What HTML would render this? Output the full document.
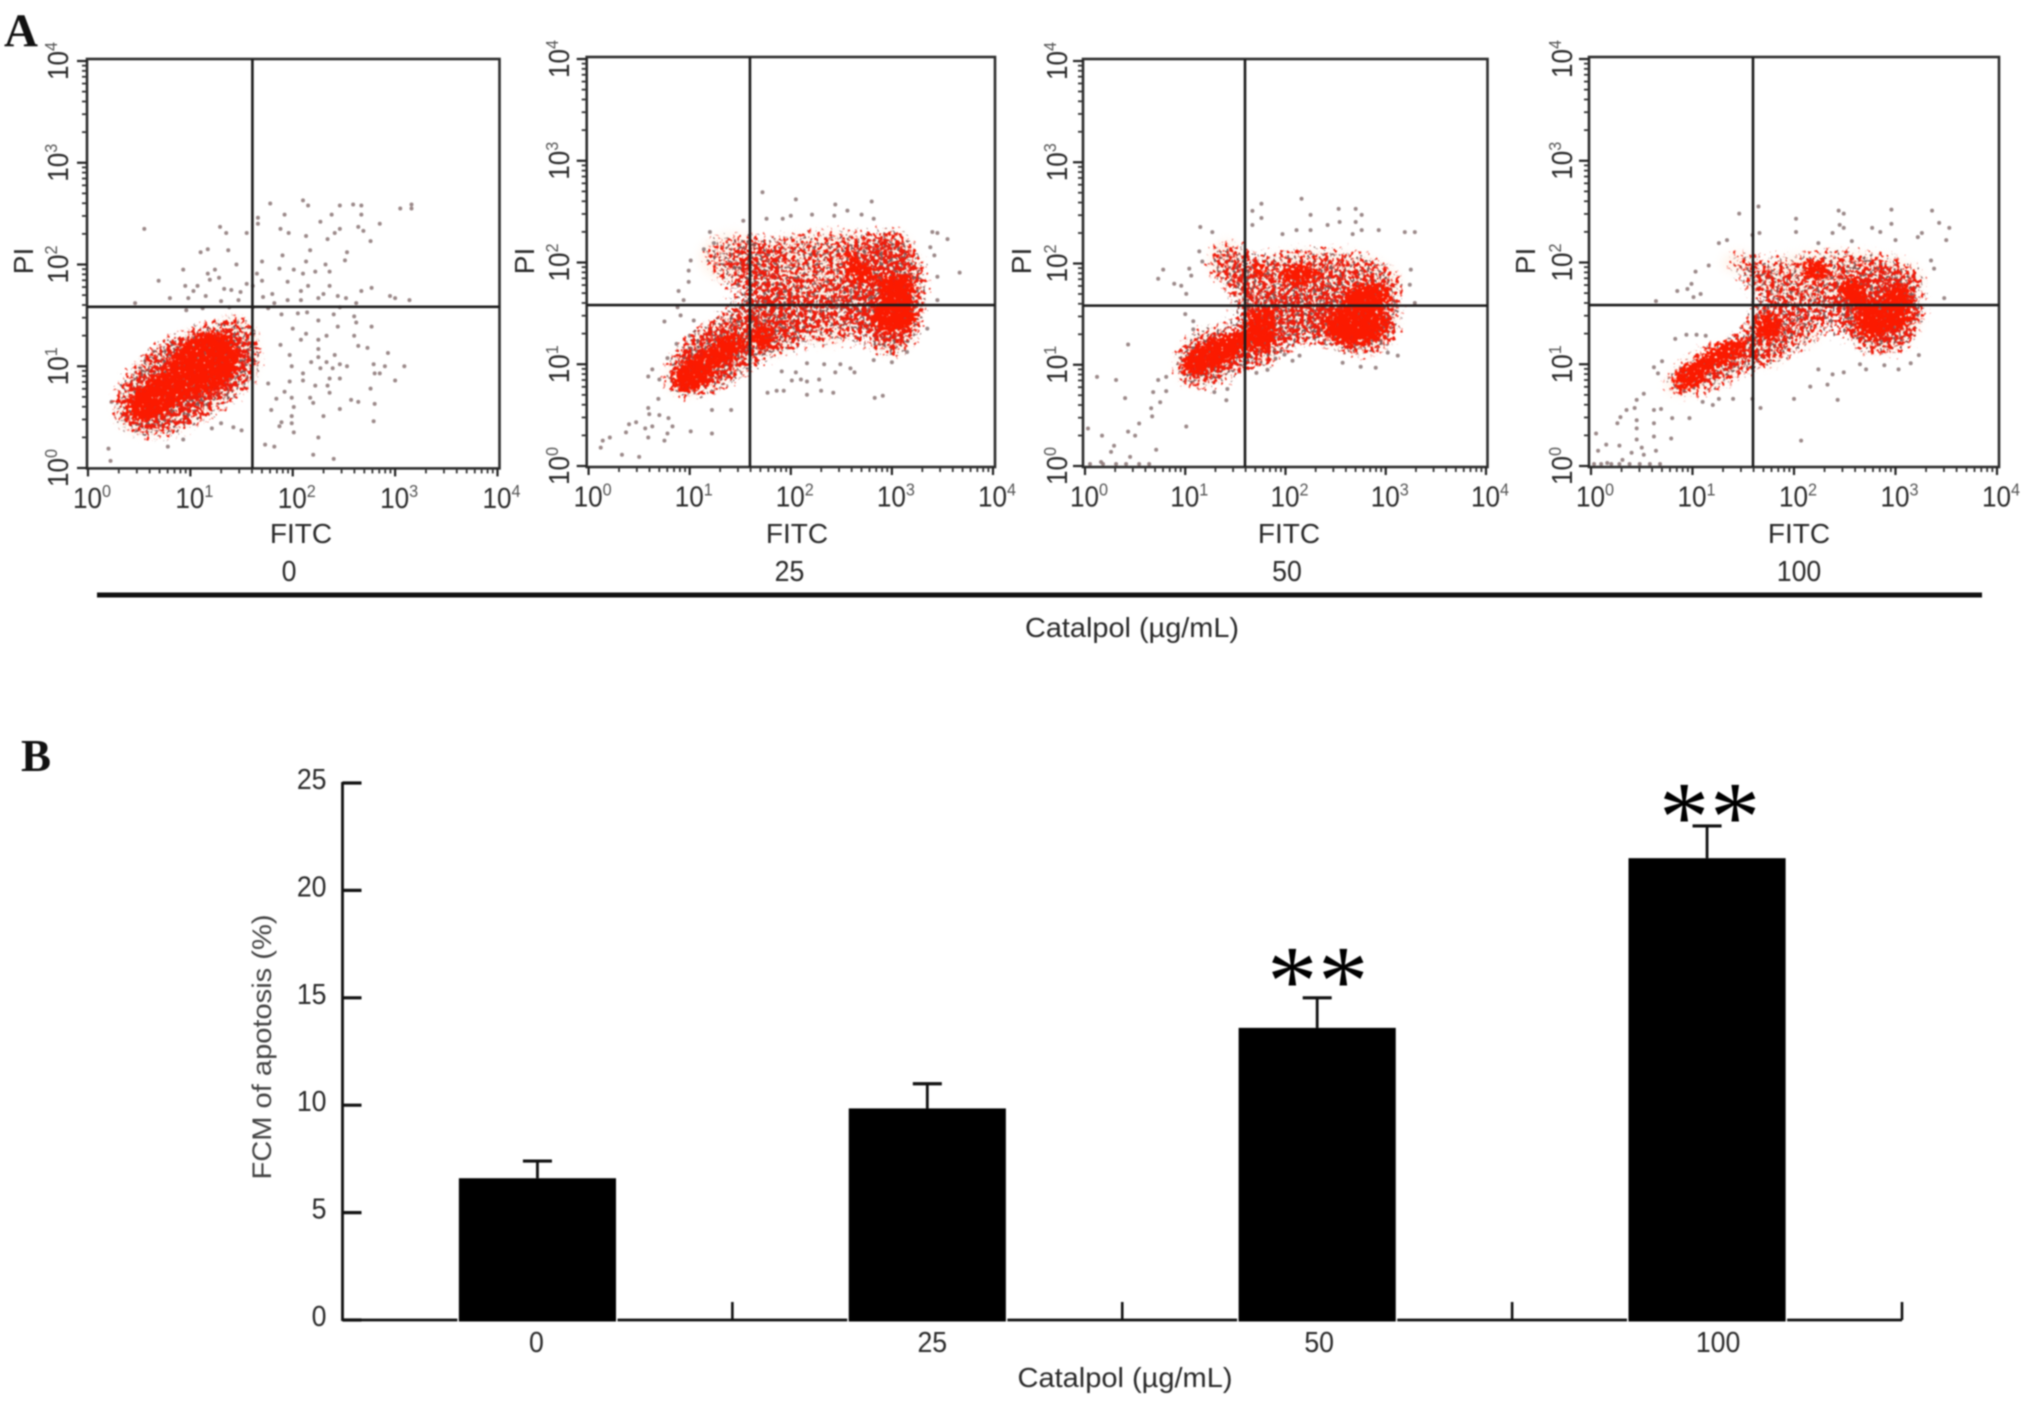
<!DOCTYPE html>
<html lang="en">
<head>
<meta charset="utf-8">
<title>Catalpol flow cytometry apoptosis figure</title>
<style>
html,body{margin:0;padding:0;background:#fff;width:2029px;height:1404px;overflow:hidden}
svg{display:block;filter:blur(0.8px)}
text{font-family:"Liberation Sans",sans-serif;fill:#2a2a2a}
</style>
</head>
<body>
<svg id="figure" xmlns="http://www.w3.org/2000/svg" width="2029" height="1404" viewBox="0 0 2029 1404">
<defs>
<filter id="speckle-red" x="-20%" y="-20%" width="140%" height="140%" color-interpolation-filters="sRGB">
<feGaussianBlur in="SourceGraphic" stdDeviation="13" result="soft"/>
<feTurbulence type="fractalNoise" baseFrequency="0.24" numOctaves="2" seed="4" result="noise"/>
<feColorMatrix in="noise" type="matrix" values="0 0 0 0 1 0 0 0 0 1 0 0 0 0 1 1 0 0 0 0" result="noiseAlpha"/>
<feComposite in="soft" in2="noiseAlpha" operator="in" result="masked"/>
<feComponentTransfer in="masked"><feFuncA type="linear" slope="9" intercept="-3.7"/></feComponentTransfer>
</filter>
<filter id="speckle-dark" x="-20%" y="-20%" width="140%" height="140%" color-interpolation-filters="sRGB">
<feGaussianBlur in="SourceGraphic" stdDeviation="14" result="soft"/>
<feTurbulence type="fractalNoise" baseFrequency="0.3" numOctaves="2" seed="17" result="noise"/>
<feColorMatrix in="noise" type="matrix" values="0 0 0 0 1 0 0 0 0 1 0 0 0 0 1 1 0 0 0 0" result="noiseAlpha"/>
<feComposite in="soft" in2="noiseAlpha" operator="in" result="masked"/>
<feComponentTransfer in="masked"><feFuncA type="linear" slope="10" intercept="-4.5"/></feComponentTransfer>
</filter>
<filter id="dense-red" x="-30%" y="-30%" width="160%" height="160%" color-interpolation-filters="sRGB">
<feGaussianBlur in="SourceGraphic" stdDeviation="7" result="soft"/>
<feTurbulence type="fractalNoise" baseFrequency="0.28" numOctaves="2" seed="9" result="noise"/>
<feColorMatrix in="noise" type="matrix" values="0 0 0 0 1 0 0 0 0 1 0 0 0 0 1 1 0 0 0 0" result="noiseAlpha"/>
<feComposite in="soft" in2="noiseAlpha" operator="in" result="masked"/>
<feComponentTransfer in="masked"><feFuncA type="linear" slope="12" intercept="-3"/></feComponentTransfer>
</filter>
<filter id="soft-cream" x="-20%" y="-20%" width="140%" height="140%">
<feGaussianBlur stdDeviation="5"/>
</filter>
</defs>

<text x="4" y="46" font-size="47" font-weight="bold" style="font-family:'Liberation Serif',serif;fill:#111">A</text>
<text x="21" y="771" font-size="45" font-weight="bold" style="font-family:'Liberation Serif',serif;fill:#111">B</text>
<rect x="97" y="592.5" width="1885" height="5" fill="#111"/>
<text x="1132" y="637" font-size="28" text-anchor="middle" textLength="214" lengthAdjust="spacingAndGlyphs">Catalpol (µg/mL)</text>
<text x="1125" y="1387" font-size="28" text-anchor="middle" textLength="215" lengthAdjust="spacingAndGlyphs">Catalpol (µg/mL)</text>
<text transform="translate(271 1047) rotate(-90)" font-size="27" text-anchor="middle" textLength="265" lengthAdjust="spacingAndGlyphs" style="fill:#444">FCM of apotosis (%)</text>
</svg>

<script>
/* ---------- Panel A data: all values are log10 fluorescence (decades) ---------- */
const doseLabels = ["0", "25", "50", "100"];
const decadeTicks = [0, 1, 2, 3, 4];
const minorTickMultipliers = [2, 3, 4, 5, 6, 7, 8, 9];
const gateFitc = [1.606, 1.596, 1.596, 1.596];
const gatePi = [1.584, 1.582, 1.584, 1.582];

/* Dense populations: [log FITC, log PI, FITC spread, PI spread, tilt degrees] */
const panel0Dense = [[0.72,0.73,0.41,0.2,33],[1.14,1.03,0.38,0.3,33]];
const panel1Dense = [[1.04,0.91,0.25,0.17,35],[1.34,1.14,0.25,0.13,35],[1.73,1.27,0.11,0.16,0],[3.02,1.47,0.25,0.18,0],[3.05,1.76,0.2,0.14,0],[2.69,1.89,0.17,0.11,0],[2.59,2.07,0.11,0.07,0],[2.26,2.06,0.08,0.06,0]];
const panel2Dense = [[1.28,1.1,0.37,0.16,25],[1.74,1.33,0.18,0.22,0],[2.14,1.89,0.25,0.11,0],[2.7,1.4,0.35,0.22,0],[2.84,1.7,0.27,0.12,0],[1.74,1.94,0.1,0.1,0],[1.77,1.5,0.18,0.08,0]];
const panel3Dense = [[0.97,0.87,0.2,0.13,25],[1.29,1.1,0.33,0.11,25],[1.75,1.37,0.15,0.16,0],[2.21,1.92,0.17,0.12,0],[2.57,1.73,0.15,0.15,0],[2.77,1.43,0.18,0.21,0],[3.03,1.66,0.15,0.15,0],[3.03,1.47,0.14,0.15,0]];

/* Scattered populations: same columns plus relative event density */
const panel0Cloud = [[0.94,0.86,0.8,0.45,33,1],[1.43,1.12,0.28,0.42,0,0.9]];
const panel1Cloud = [[1.27,1.1,0.63,0.33,35,1],[1.83,1.37,0.3,0.33,0,0.92],[2.39,1.92,0.96,0.43,0,0.86],[2.99,1.7,0.36,0.66,0,1],[1.44,2.05,0.4,0.3,0,0.8],[2.36,1.37,0.33,0.23,0,0.82]];
const panel2Cloud = [[1.24,1.07,0.4,0.3,30,1],[1.77,1.27,0.23,0.33,0,1],[2.31,1.79,0.9,0.39,0,0.9],[2.74,1.4,0.43,0.33,0,1],[1.41,2.02,0.23,0.26,0,0.88],[2.14,1.43,0.27,0.26,0,0.88]];
const panel3Cloud = [[1.2,0.97,0.56,0.23,25,0.95],[1.75,1.27,0.26,0.33,0,0.92],[2.41,1.83,0.92,0.33,0,0.86],[2.87,1.5,0.43,0.43,0,1],[1.46,2,0.23,0.16,0,0.78],[2.11,1.33,0.2,0.2,0,0.82]];

/* Individually read outlier events: [log FITC, log PI] */
const panel0Events = [[.55,2.35],[1.78,2.6],[2.1,2.63],[2.15,2.58],[2.46,2.58],[2.59,2.59],[2.67,2.58],[3.05,2.55],[3.16,2.59],[3.16,2.55],[1.92,2.49],[2.38,2.49],[2.67,2.49],[1.66,2.46],[1.66,2.4],[2.27,2.42],[2.85,2.4],[2.64,2.37],[2.46,2.35],[1.88,2.35],[1.29,2.37],[1.35,2.31],[1.55,2.31],[1.96,2.31],[2.13,2.28],[2.41,2.31],[2.69,2.33],[2.34,2.25],[2.76,2.23],[1.17,2.15],[1.1,2.12],[1.37,2.14],[2.17,2.14],[2.53,2.12],[1.9,2.09],[2.51,2.04],[1.45,2],[1.7,2.03],[2.13,2.03],[2.32,2],[.93,1.95],[1.87,1.96],[2.01,1.95],[2.22,1.93],[2.36,1.93],[1.24,1.95],[1.17,1.91],[1.65,1.91],[2.1,1.91],[1.28,1.87],[1.19,1.85],[.69,1.84],[1.7,1.84],[1.95,1.83],[.95,1.79],[1.07,1.79],[2.15,1.79],[2.36,1.79],[2.77,1.77],[1.03,1.74],[1.33,1.76],[1.4,1.75],[1.55,1.81],[1.61,1.79],[2.08,1.74],[2.67,1.74],[.8,1.67],[.98,1.67],[1.15,1.69],[1.49,1.73],[1.8,1.71],[1.71,1.68],[2.3,1.71],[2.25,1.67],[2.44,1.69],[2.52,1.67],[2.95,1.69],[3,1.67],[3.14,1.65],[1.3,1.64],[1.47,1.65],[1.95,1.65],[2.08,1.65],[.46,1.62],[2.62,1.62],[1.82,1.62],[1.38,1.58],[1.61,1.58],[2.46,1.58],[1.12,1.57],[.96,1.55],[1.76,1.57],[2.05,1.52],[1.89,1.51],[2.14,1.53],[2.4,1.51],[2.6,1.49],[2.25,1.45],[2.62,1.43],[2.77,1.39],[2.44,1.39],[2,1.37],[2.33,1.3],[2.13,1.32],[2.08,1.26],[2.25,1.26],[2.6,1.3],[1.88,1.21],[2.64,1.2],[2.73,1.18],[2.25,1.17],[2.93,1.13],[1.97,1.11],[2.41,1.11],[2.25,1.09],[2.33,1.04],[2.79,1.02],[2.46,1.02],[2.9,1],[3.09,1],[1.99,1],[2.18,1.04],[2.39,.98],[2.27,.98],[2.53,1],[2.1,.93],[2.8,.93],[2.85,.93],[2.36,.88],[2.46,.88],[3,.86],[1.97,.85],[2.1,.86],[2.22,.81],[2.34,.81],[1.76,.83],[2.76,.78],[2.36,.74],[1.92,.75],[1.84,.68],[2.17,.69],[1.99,.69],[2.57,.67],[2.64,.65],[2.2,.64],[2.8,.63],[2.01,.6],[2.46,.58],[1.79,.57],[2.3,.51],[1.99,.51],[2.79,.46],[1.89,.45],[1.99,.44],[1.87,.41],[2.01,.35],[2.25,.3],[1.73,.23],[1.82,.21],[2.2,.13],[2.4,.09],[.2,.19],[.22,.07],[.23,.65],[.78,.21],[.93,.28],[1.42,.4],[1.5,.37],[1.21,.39],[1.3,.44]];
const panel1Events = [[1.72,2.69],[2.05,2.62],[2.44,2.57],[2.8,2.6],[2.56,2.51],[2.7,2.47],[2.21,2.47],[2,2.46],[1.76,2.43],[1.92,2.43],[2.43,2.46],[2.82,2.43],[1.53,2.41],[1.2,2.3],[3.45,2.29],[3.4,2.3],[3.55,2.23],[3.67,1.9],[3.42,2.07],[3.38,2.15],[1.14,2.13],[1.24,2.19],[1.01,2.02],[.99,1.92],[.99,1.81],[.89,1.72],[.94,1.63],[.88,1.56],[.91,1.48],[.75,1.42],[1.04,1.43],[1,1.28],[.87,1.2],[.78,1.06],[.63,.95],[.59,.88],[.7,.85],[.69,.66],[.59,.57],[.6,.51],[.7,.5],[.79,.47],[.4,.41],[.47,.43],[.63,.39],[.56,.37],[.37,.33],[.83,.39],[.78,.32],[.59,.28],[1.01,.34],[1.22,.32],[.75,.25],[.21,.28],[.14,.25],[.12,.18],[.33,.11],[.5,.09],[1.41,.55],[1.22,.55],[1.77,.72],[1.86,.74],[1.93,.74],[2.16,.7],[2.3,.74],[2.42,.72],[2.83,.67],[2.91,.69],[2.01,.84],[2.1,.85],[2.16,.83],[2.28,.85],[1.91,.93],[2.05,.92],[2.33,1],[2.44,.92],[2.49,1],[2.59,.96],[2.63,.92],[2.82,1.04],[3,1.02],[3.15,1.12],[3.35,1.35],[3.45,1.63],[3.45,1.86],[2.16,1.01]];
const panel2Events = [[2.16,2.64],[1.76,2.59],[1.67,2.52],[2.53,2.54],[2.7,2.54],[2.25,2.48],[2.76,2.48],[1.76,2.45],[2.54,2.41],[2.7,2.41],[2.42,2.38],[1.67,2.38],[1.15,2.36],[1.27,2.31],[2.11,2.33],[2.25,2.33],[2.76,2.33],[2.93,2.33],[3.19,2.31],[3.29,2.31],[1.97,2.29],[2.67,2.29],[.78,1.94],[.73,1.85],[.89,1.8],[.96,1.78],[1.01,1.7],[1.06,1.88],[1.04,1.95],[1.17,2.02],[1.14,2.12],[3.29,1.61],[3.25,1.94],[3.24,1.79],[1,1.5],[1.08,1.43],[1.08,1.35],[.43,1.2],[.12,.88],[.31,.85],[.4,.67],[.68,.73],[.81,.74],[.75,.63],[.66,.57],[.67,.49],[.54,.42],[.43,.34],[.5,.3],[.03,.37],[.17,.3],[.29,.2],[.26,.14],[.71,.16],[1.01,.39],[1.41,.65],[1.29,.73],[1.42,.76],[1.71,.92],[1.82,.95],[1.9,1.06],[2.07,1.04],[2.14,1.09],[1.99,1.1],[2.57,1.02],[2.75,.98],[2.9,.97],[3.12,1.09],[3.02,1.12],[.81,.88],[.73,.85],[.45,.09],[.16,.04],[.05,.02],[.18,.02],[.31,.02],[.41,.02],[.54,.02],[.64,.02]];
const panel3Events = [[1.46,2.48],[1.65,2.55],[2.44,2.51],[2.49,2.48],[2.96,2.52],[3.36,2.51],[2.02,2.43],[3.43,2.39],[2.96,2.38],[3.53,2.34],[2.45,2.37],[2.49,2.34],[2.77,2.34],[2.02,2.3],[2.38,2.29],[2.85,2.3],[3.26,2.29],[3.5,2.22],[3.22,2.25],[1.59,2.27],[1.66,2.29],[1.34,2.22],[1.26,2.19],[2.24,2.19],[2.57,2.21],[3,2.22],[1.03,1.91],[1.16,1.97],[3.38,1.94],[3.35,2.02],[3.48,1.65],[.85,1.72],[.95,1.74],[.99,1.79],[.64,1.62],[1.01,1.66],[1.08,1.69],[.83,1.25],[.94,1.29],[1.04,1.29],[1.13,1.28],[.7,1.03],[.62,.97],[.66,.91],[.52,.71],[.45,.65],[.43,.57],[.35,.55],[.29,.48],[.26,.42],[.45,.45],[.45,.37],[.62,.42],[.62,.55],[.69,.56],[.8,.47],[.97,.47],[.62,.29],[.45,.26],[.79,.27],[.05,.32],[.15,.21],[.28,.2],[.07,.15],[.5,.18],[.4,.13],[.64,.15],[.52,.11],[.31,.06],[.16,.03],[1.59,.66],[1.67,.57],[2,.66],[2.07,.25],[2.16,.78],[2.33,.8],[2.43,.65],[2.49,.92],[2.38,.9],[2.71,.95],[3.03,.95],[3.15,1.01],[2.65,1],[2.89,.99],[3.23,1.09],[2.24,.95],[1.1,.63],[1.2,.6],[1.4,.66],[1.26,.66],[.03,.02],[.1,.02],[.2,.02],[.28,.02],[.38,.02],[.48,.02],[.58,.02],[.68,.02]];

const panelDense = [panel0Dense, panel1Dense, panel2Dense, panel3Dense];
const panelClouds = [panel0Cloud, panel1Cloud, panel2Cloud, panel3Cloud];
const panelEvents = [panel0Events, panel1Events, panel2Events, panel3Events];

/* ---------- Panel B data ---------- */
const barCategories = ["0", "25", "50", "100"];
const apoptosisMeans = [6.6, 9.85, 13.6, 21.5];
const apoptosisUpperError = [7.4, 11.0, 15.0, 23.0];
const significanceMarks = ["", "", "**", "**"];
const apoptosisTicks = [0, 5, 10, 15, 20, 25];

/* ---------- Layout (pixels live only here) ---------- */
const panelLayouts = [
  {left:87, right:499.5, top:59, bottom:468.4, x0:88, x4:497.5, y0:468, y4:61, titleX:301, doseX:289, piX:33, tickX:68, tickShift:4},
  {left:586.7, right:995, top:57, bottom:467, x0:588.6, x4:993, y0:466, y4:59, titleX:797, doseX:789.5, piX:534, tickX:569, tickShift:4},
  {left:1083, right:1487.5, top:59, bottom:467, x0:1085, x4:1486, y0:466, y4:61, titleX:1289, doseX:1287, piX:1031, tickX:1067, tickShift:4},
  {left:1589, right:1999, top:57, bottom:467, x0:1591, x4:1997, y0:466, y4:59, titleX:1799, doseX:1799, piX:1535, tickX:1572, tickShift:4}
];
const barLayout = {axisX:342.5, right:1902, zeroY:1320, topY:783, maxValue:25, barShare:0.403, capHalf:14.5, starGap:[0,0,16,24], starShift:[0,0,0,2]};
const cloudPad = 7;

const SVG_NS = "http://www.w3.org/2000/svg";
const root = document.getElementById("figure");

function make(tag, attrs, parent, content) {
  const node = document.createElementNS(SVG_NS, tag);
  for (const key in attrs) node.setAttribute(key, attrs[key]);
  if (content !== undefined) node.textContent = content;
  parent.appendChild(node);
  return node;
}

function drawEllipses(parent, rows, xScale, yScale, fill, pad) {
  rows.forEach(function (row) {
    const cx = xScale(row[0]);
    const cy = yScale(row[1]);
    const shape = make("ellipse", {
      cx: cx, cy: cy,
      rx: Math.abs(xScale(row[0] + row[2]) - cx) + pad,
      ry: Math.abs(yScale(row[1] + row[3]) - cy) + pad,
      fill: fill,
      "fill-opacity": row.length > 5 ? row[5] : 1,
      transform: "rotate(" + (-row[4]) + " " + cx + " " + cy + ")"
    }, parent);
    
    
  });
}

function decadeLabel(parent, x, y, exponent, rotated) {
  const attrs = {"font-size": 29, "text-anchor": "middle"};
  attrs.transform = "translate(" + x + " " + y + ")" + (rotated ? " rotate(-90)" : "") + " scale(0.9 1)";
  const label = make("text", attrs, parent);
  
  
  make("tspan", {}, label, "10");
  make("tspan", {dy: -11, "font-size": 18, style: "fill:#555"}, label, String(exponent));
}

panelLayouts.forEach(function (L, i) {
  const xScale = function (v) { return L.x0 + (L.x4 - L.x0) * v / 4; };
  const yScale = function (v) { return L.y0 + (L.y4 - L.y0) * v / 4; };

  const panel = make("g", {}, root);
  
  

  const cream = make("g", {filter: "url(#soft-cream)", opacity: 0.4}, panel);
  
  
  drawEllipses(cream, panelClouds[i].concat(panelDense[i]), xScale, yScale, "#ffdcc0", -6);

  const dark = make("g", {filter: "url(#speckle-dark)", opacity: 0.8}, panel);
  
  
  drawEllipses(dark, panelClouds[i], xScale, yScale, "#6a3434", cloudPad);

  const sparse = make("g", {}, panel);
  
  
  panelEvents[i].forEach(function (pt) {
    const dot = make("circle", {cx: xScale(pt[0]), cy: yScale(pt[1]), r: 2, fill: "#8a7474", opacity: 0.85}, sparse);
    
    
  });

  const cloud = make("g", {filter: "url(#speckle-red)"}, panel);
  
  
  drawEllipses(cloud, panelClouds[i], xScale, yScale, "#ee1c0c", cloudPad);

  const dense = make("g", {filter: "url(#dense-red)"}, panel);
  
  
  drawEllipses(dense, panelDense[i], xScale, yScale, "#fb1a00", 0);

  const frame = make("rect", {x: L.left, y: L.top, width: L.right - L.left, height: L.bottom - L.top, fill: "none", stroke: "#2e2e2e", "stroke-width": 2.6}, panel);
  
  

  const gateV = make("line", {x1: xScale(gateFitc[i]), x2: xScale(gateFitc[i]), y1: L.top, y2: L.bottom, stroke: "#1c1c1c", "stroke-width": 2.6}, panel);
  
  
  const gateH = make("line", {x1: L.left, x2: L.right, y1: yScale(gatePi[i]), y2: yScale(gatePi[i]), stroke: "#1c1c1c", "stroke-width": 2.6}, panel);
  
  

  decadeTicks.forEach(function (d) {
    const tx = make("line", {x1: xScale(d), x2: xScale(d), y1: L.bottom, y2: L.bottom + 8, stroke: "#222", "stroke-width": 2.2}, panel);
    
    
    const ty = make("line", {x1: L.left - 10, x2: L.left, y1: yScale(d), y2: yScale(d), stroke: "#222", "stroke-width": 2.2}, panel);
    
    
    decadeLabel(panel, xScale(d) + L.tickShift, L.bottom + 39.5, d, false);
    decadeLabel(panel, L.tickX, yScale(d), d, true);
    if (d < 4) {
      minorTickMultipliers.forEach(function (m) {
        const v = d + Math.log10(m);
        const mx = make("line", {x1: xScale(v), x2: xScale(v), y1: L.bottom, y2: L.bottom + 5, stroke: "#333", "stroke-width": 1.8}, panel);
        
        
        const my = make("line", {x1: L.left - 5, x2: L.left, y1: yScale(v), y2: yScale(v), stroke: "#333", "stroke-width": 1.8}, panel);
        
        
      });
    }
  });

  const fitcTitle = make("text", {x: L.titleX, y: 543, "font-size": 28, "text-anchor": "middle"}, panel, "FITC");
  
  
  const piTitle = make("text", {transform: "translate(" + L.piX + " 261) rotate(-90)", "font-size": 28, "text-anchor": "middle"}, panel, "PI");
  
  
  const dose = make("text", {transform: "translate(" + L.doseX + " 581) scale(0.92 1)", "font-size": 29, "text-anchor": "middle"}, panel, doseLabels[i]);
  
  
});

/* ---------- Panel B bar chart ---------- */
(function () {
  const B = barLayout;
  const valueY = function (v) { return B.zeroY - (B.zeroY - B.topY) * v / B.maxValue; };
  const band = (B.right - B.axisX) / barCategories.length;
  const bandCenter = function (i) { return B.axisX + band * (i + 0.5); };
  const barWidth = band * B.barShare;

  const chart = make("g", {}, root);
  
  

  const yAxis = make("line", {x1: B.axisX, x2: B.axisX, y1: B.topY - 1, y2: B.zeroY + 1, stroke: "#111", "stroke-width": 2.8}, chart);
  
  
  const xAxis = make("line", {x1: B.axisX, x2: B.right, y1: B.zeroY, y2: B.zeroY, stroke: "#111", "stroke-width": 2.8}, chart);
  
  

  apoptosisTicks.forEach(function (t) {
    const tick = make("line", {x1: B.axisX, x2: B.axisX + 19, y1: valueY(t), y2: valueY(t), stroke: "#111", "stroke-width": 3.2}, chart);
    
    
    const label = make("text", {transform: "translate(326.5 " + (valueY(t) + 6) + ") scale(0.92 1)", "font-size": 29, "text-anchor": "end"}, chart, String(t));
    
    
  });

  barCategories.forEach(function (cat, i) {
    const cx = bandCenter(i);
    const sep = make("line", {x1: B.axisX + band * (i + 1), x2: B.axisX + band * (i + 1), y1: B.zeroY - 18, y2: B.zeroY, stroke: "#111", "stroke-width": 2.6}, chart);
    
    

    const gap = make("rect", {x: cx - barWidth / 2 - 1.5, y: B.zeroY - 3, width: barWidth + 3, height: 6, fill: "#fff"}, chart);
    
    

    const stem = make("line", {x1: cx, x2: cx, y1: valueY(apoptosisUpperError[i]), y2: valueY(apoptosisMeans[i]), stroke: "#111", "stroke-width": 2.8}, chart);
    
    
    const cap = make("line", {x1: cx - B.capHalf, x2: cx + B.capHalf, y1: valueY(apoptosisUpperError[i]), y2: valueY(apoptosisUpperError[i]), stroke: "#111", "stroke-width": 3.2}, chart);
    
    

    const bar = make("rect", {x: cx - barWidth / 2, y: valueY(apoptosisMeans[i]), width: barWidth, height: B.zeroY + 1.5 - valueY(apoptosisMeans[i]), fill: "#000"}, chart);
    
    

    const labelX = cx + (i === 3 ? 11 : i === 2 ? 2 : i === 1 ? 5 : -1);
    const catLabel = make("text", {transform: "translate(" + labelX + " 1352) scale(0.92 1)", "font-size": 29, "text-anchor": "middle"}, chart, cat);
    
    

    if (significanceMarks[i]) {
      const marks = significanceMarks[i].split("");
      marks.forEach(function (m, k) {
        const star = make("text", {x: cx + (k === 0 ? -25 : 26) + B.starShift[i], y: valueY(apoptosisUpperError[i]) + B.starGap[i], "font-size": 100, "text-anchor": "middle", style: "font-family:'Liberation Serif',serif;fill:#000"}, chart, m);
        
        
      });
    }
  });
})();
</script>
</body>
</html>
